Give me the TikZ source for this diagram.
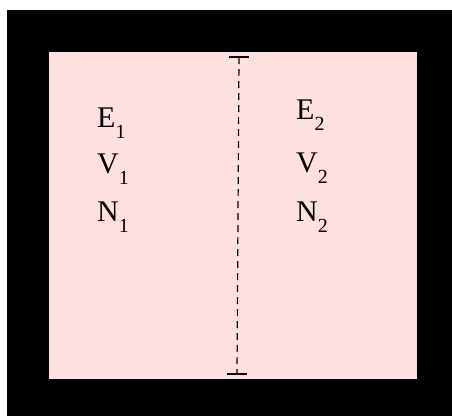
\documentclass[tikz,border=0pt]{standalone}
\usepackage{fontspec}
\setmainfont{Liberation Serif}
\definecolor{pinkfill}{RGB}{255,224,224}
\newcommand{\lbl}[2]{#1\raisebox{-11pt}{\fontsize{20}{24}\selectfont #2}}
\begin{document}
\begin{tikzpicture}[x=1pt,y=-1pt,
  txt/.style={anchor=base west,inner sep=0pt,font=\fontsize{30}{36}\selectfont},
  barline/.style={line width=2.5pt},
  dimline/.style={line width=1.2pt,dash pattern=on 7pt off 5pt}]
\useasboundingbox (0,0) rectangle (452,416);
\fill[black] (7,10) rectangle (452,416);
\fill[pinkfill] (49,52) rectangle (417,379);
\coordinate (top) at (239,57);
\coordinate (bot) at (237,374);
\draw[dimline] (top) -- (bot);
\draw[barline] ([xshift=-10pt]top) -- ([xshift=10pt]top);
\draw[barline] ([xshift=-10pt]bot) -- ([xshift=10pt]bot);
\node[txt] (e1) at (97,127) {\lbl{E}{1}};
\node[txt] (v1) at (97,173) {\lbl{V}{1}};
\node[txt] (n1) at (97,221) {\lbl{N}{1}};
\node[txt] (e2) at (296,119) {\lbl{E}{2}};
\node[txt] (v2) at (296,172) {\lbl{V}{2}};
\node[txt] (n2) at (296,221) {\lbl{N}{2}};
\end{tikzpicture}
\end{document}
